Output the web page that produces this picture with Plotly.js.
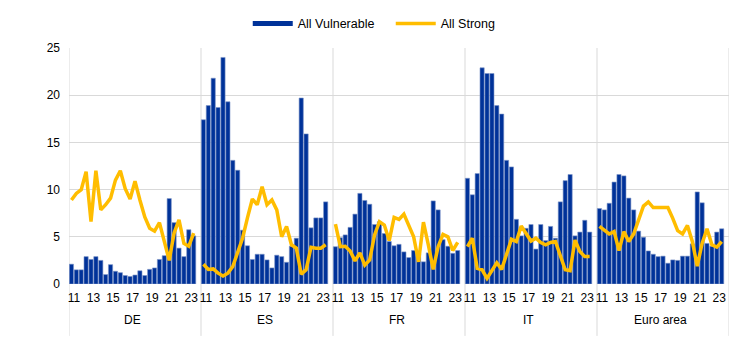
<!DOCTYPE html>
<html>
<head>
<meta charset="utf-8">
<script src="https://cdn.plot.ly/plotly-3.0.1.min.js"></script>
<style>html,body{margin:0;padding:0;background:#fff;}#chart{width:744px;height:351px;}</style>
</head>
<body>
<div id="chart"></div>
<script>
// Countries / groups
const groups = ["DE", "ES", "FR", "IT", "Euro area"];
// Semi-annual observations 2011H1 ... 2023H2 (26 per group)
const yearTicks = ["11", "13", "15", "17", "19", "21", "23"];

// All Vulnerable (bars)
const vulnDE = [2.1, 1.5, 1.5, 2.9, 2.6, 2.9, 2.5, 1.0, 2.05, 1.35, 1.2, 0.9, 0.8, 0.95, 1.4, 0.9, 1.55, 1.7, 2.6, 3.0, 9.05, 6.5, 3.8, 2.9, 5.75, 5.1];
const vulnES = [17.4, 18.9, 21.8, 18.7, 24.0, 19.3, 13.1, 12.05, 5.7, 4.05, 2.6, 3.15, 3.15, 2.55, 1.7, 3.05, 2.9, 2.3, 4.0, 4.85, 19.7, 15.9, 5.95, 7.0, 7.0, 8.7];
const vulnFR = [3.95, 4.9, 5.2, 6.0, 7.4, 9.6, 8.85, 8.45, 6.3, 6.6, 5.35, 4.5, 4.05, 4.2, 3.4, 2.8, 3.55, 3.2, 2.35, 3.3, 8.8, 7.85, 4.7, 4.0, 3.25, 3.55];
const vulnIT = [11.2, 9.45, 11.7, 22.9, 22.3, 22.3, 18.9, 18.0, 13.1, 12.4, 6.85, 5.1, 5.9, 6.3, 3.7, 6.3, 4.6, 6.1, 4.85, 8.7, 10.95, 11.6, 5.1, 5.5, 6.75, 5.5];
const vulnEA = [8.0, 7.85, 8.55, 10.8, 11.6, 11.45, 9.1, 7.85, 5.6, 4.95, 3.5, 3.15, 2.9, 2.95, 2.2, 2.55, 2.5, 2.95, 2.95, 4.25, 9.75, 8.6, 4.3, 4.0, 5.5, 5.85];

// All Strong (line)
const strongDE = [8.9, 9.6, 10.0, 11.9, 6.6, 12.0, 7.85, 8.4, 9.1, 11.0, 12.0, 10.1, 9.0, 10.9, 8.9, 7.1, 5.9, 5.6, 6.5, 4.4, 2.5, 5.4, 6.8, 4.3, 4.0, 5.4];
const strongES = [2.1, 1.55, 1.6, 1.15, 0.85, 1.15, 1.85, 3.25, 4.85, 7.0, 9.0, 8.4, 10.3, 8.4, 8.9, 7.85, 5.0, 6.1, 4.15, 3.8, 1.05, 1.5, 3.9, 3.8, 3.8, 4.15];
const strongFR = [6.35, 3.95, 4.0, 3.5, 2.45, 3.3, 2.0, 2.55, 5.2, 6.6, 6.25, 4.6, 7.05, 6.85, 7.4, 6.1, 5.0, 2.35, 6.55, 4.15, 1.55, 3.95, 5.25, 5.0, 3.55, 4.4];
const strongIT = [3.95, 4.85, 1.65, 1.5, 0.6, 1.5, 2.25, 1.55, 3.05, 4.75, 4.5, 6.15, 5.35, 4.55, 4.85, 4.4, 4.15, 4.4, 4.5, 3.05, 1.5, 1.4, 4.65, 3.45, 2.9, 2.9];
const strongEA = [6.1, 5.7, 5.3, 5.55, 3.55, 5.55, 4.5, 5.3, 6.8, 8.25, 8.7, 8.1, 8.1, 8.1, 8.1, 6.95, 5.65, 5.3, 6.2, 4.5, 1.9, 4.3, 5.85, 4.15, 3.9, 4.5];

const vulnSeries = [vulnDE, vulnES, vulnFR, vulnIT, vulnEA];
const strongSeries = [strongDE, strongES, strongFR, strongIT, strongEA];

const SLOTS = 27; // 26 observations + one empty slot per group
const BLUE = "#003299";
const GOLD = "#FFBD00";
const GRID = "#d9d9d9";

let barX = [], barY = [], lineX = [], lineY = [];
vulnSeries.forEach((arr, g) => arr.forEach((v, k) => { barX.push(g * SLOTS + k); barY.push(v); }));
strongSeries.forEach((arr, g) => {
  arr.forEach((v, k) => { lineX.push(g * SLOTS + k); lineY.push(v); });
  lineX.push(null); lineY.push(null);
});

const tickvals = [], ticktext = [];
groups.forEach((_, g) => yearTicks.forEach(t => {
  tickvals.push(g * SLOTS + (parseInt(t, 10) - 11) * 2 + 0.5);
  ticktext.push(t);
}));

const shapes = [];
for (let g = 0; g <= groups.length; g++) {
  shapes.push({type: "line", xref: "x", yref: "paper", x0: g * SLOTS - 0.5, x1: g * SLOTS - 0.5,
    y0: -0.22, y1: 1, line: {color: GRID, width: 1}, layer: "below"});
}
const annotations = groups.map((name, g) => ({
  xref: "x", yref: "paper", x: g * SLOTS + 12.5, y: -0.152, text: name, showarrow: false,
  xanchor: "center", yanchor: "middle", font: {size: 12, color: "#000"}
}));

const traces = [
  {type: "bar", x: barX, y: barY, name: "All Vulnerable", showlegend: false,
   marker: {color: BLUE, line: {color: "#7d95c8", width: 0.6}}, hoverinfo: "skip"},
  {type: "scatter", mode: "lines", x: [null], y: [null], name: "All Vulnerable",
   line: {color: BLUE, width: 5}, showlegend: true},
  {type: "scatter", mode: "lines", x: lineX, y: lineY, name: "All Strong", connectgaps: false,
   line: {color: GOLD, width: 3.5}}
];

const layout = {
  width: 744, height: 351,
  margin: {l: 68.5, r: 14.5, t: 48, b: 67},
  paper_bgcolor: "#fff", plot_bgcolor: "#fff",
  font: {family: "Liberation Sans, Arial, sans-serif", size: 12, color: "#000"},
  bargap: 0.14,
  showlegend: true,
  legend: {orientation: "h", xref: "container", yref: "container", x: 0.333, xanchor: "left",
    y: 0.932, yanchor: "middle", font: {size: 12.5}, traceorder: "normal",
    itemwidth: 40, entrywidth: 88, entrywidthmode: "pixels"},
  xaxis: {range: [-0.5, groups.length * SLOTS - 0.5], tickmode: "array", tickvals: tickvals, ticktext: ticktext,
    showgrid: false, zeroline: false, showline: false, ticks: "", ticklabelstandoff: 5, tickfont: {size: 12}, tickangle: 0},
  yaxis: {range: [0, 25], dtick: 5, showgrid: true, gridcolor: GRID, gridwidth: 1, zeroline: false,
    showline: false, ticks: "", ticklabelstandoff: 8, tickfont: {size: 12}},
  shapes: shapes,
  annotations: annotations
};

Plotly.newPlot("chart", traces, layout, {displayModeBar: false, staticPlot: true});
</script>
</body>
</html>
